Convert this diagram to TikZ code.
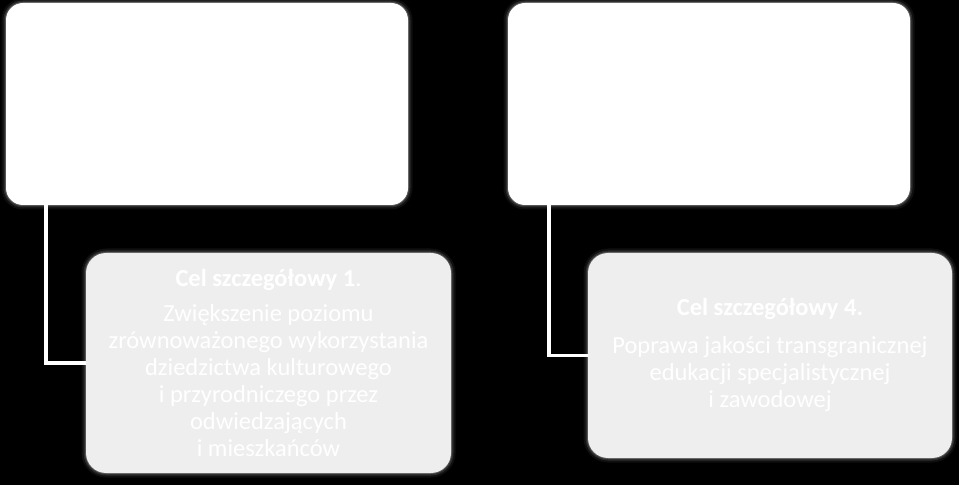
\documentclass[tikz,border=0pt]{standalone}
\usepackage{fontspec}
\setmainfont{Carlito}
\usepackage{tikz}

\definecolor{celgray}{RGB}{238,238,238}

\tikzset{
  halo/.style={preaction={draw=white, draw opacity=.06, line width=9pt},
               preaction={draw=white, draw opacity=.12, line width=5pt},
               preaction={draw=white, draw opacity=.2, line width=2pt}},
  topbox/.style={halo, fill=white, rounded corners=17pt, inner sep=0pt,
                 minimum width=402pt, minimum height=202pt},
  celbox/.style={halo, fill=celgray, rounded corners=20pt, inner sep=0pt,
                 text=white, align=center, minimum width=365pt,
                 font=\fontsize{24.5}{27}\selectfont},
  link/.style={draw=white, line width=3.5pt}
}

\begin{document}
\begin{tikzpicture}[x=1pt, y=1pt]

        %Background
        \fill [black] (0,0) rectangle (959,485);
        \useasboundingbox (0,0) rectangle (959,485);
        %Top boxes
        \node [topbox] (priorA) at (207,381) {};
        \node [topbox] (priorB) at (709,381) {};
        %Cel 1
        \node [celbox, minimum height=220pt] (cel1) at (268.5,122) {
          \textbf{Cel szczegółowy 1}.\\[8pt]
          Zwiększenie poziomu\\
          zrównoważonego wykorzystania\\
          dziedzictwa kulturowego\\
          i przyrodniczego przez\\
          odwiedzających\\
          i mieszkańców
        };
        %Cel 4
        \node [celbox, minimum width=364pt, minimum height=205pt] (cel4) at (770,129.5) {
          \textbf{Cel szczegółowy 4.}\\[11pt]
          Poprawa jakości transgranicznej\\
          edukacji specjalistycznej\\
          i zawodowej
        };
        %Links
        \draw [link] (priorA.south west) ++(40,0) |- (cel1.west);
        \draw [link] (priorB.south west) ++(41,0) |- (cel4.west);
      \end{tikzpicture}
\end{document}
